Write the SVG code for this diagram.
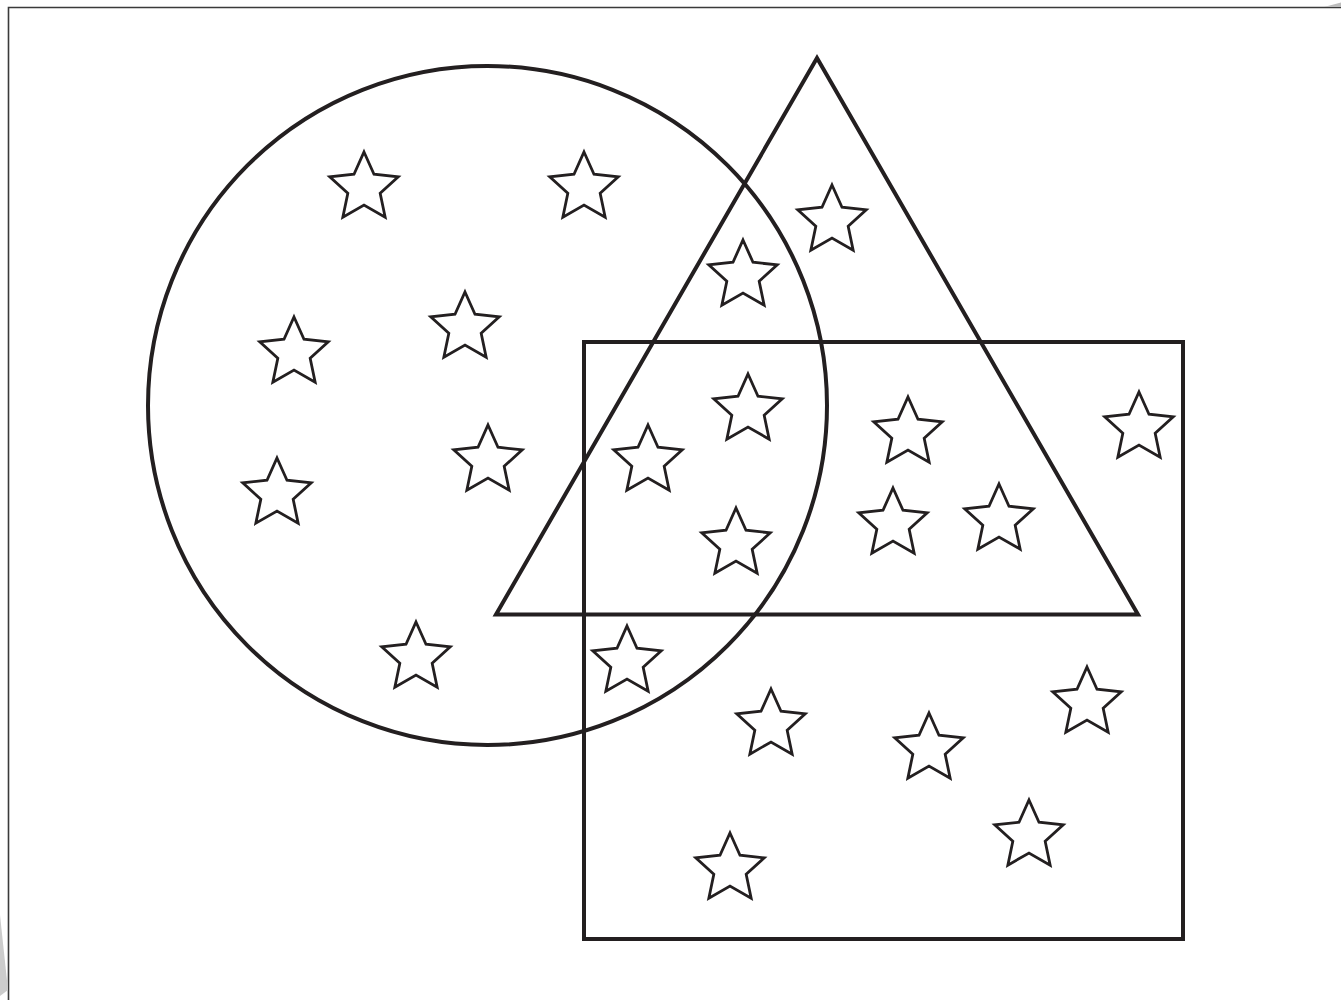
<svg xmlns="http://www.w3.org/2000/svg" xmlns:xlink="http://www.w3.org/1999/xlink" width="1341" height="1000" viewBox="0 0 1341 1000">
<style>
.shape{fill:none;stroke:#231f20;stroke-width:4}
.star{fill:#fff;stroke:#231f20;stroke-width:2.8;stroke-linejoin:miter;stroke-miterlimit:6}
.frame{fill:none;stroke:#3a3a3a;stroke-width:1.6}
</style>
<defs>
<path id="star" d="M0,-36 L9.99,-13.75 L34.24,-11.12 L16.17,5.25 L21.16,29.12 L0,17 L-21.16,29.12 L-16.17,5.25 L-34.24,-11.12 L-9.99,-13.75 Z"/>
</defs>
<rect width="1341" height="1000" fill="#fff"/>
<g id="frame">
<polyline class="frame" points="8.5,1000 8.5,7.5 1341,7.5"/>
<polygon points="1324,7 1341,2.5 1341,7" fill="#bdbdbd"/>
<polygon points="0,915 8,990 0,996" fill="#cccccc"/>
</g>
<g id="circle"><circle class="shape" cx="487.5" cy="405.5" r="339.5"/></g>
<g id="triangle"><polygon class="shape" points="817,58 496,614.5 1138,614.5"/></g>
<g id="square"><rect class="shape" x="584" y="342" width="599" height="597"/></g>
<g id="stars">
<use href="#star" class="star" x="364" y="188"/>
<use href="#star" class="star" x="584" y="188"/>
<use href="#star" class="star" x="832" y="221"/>
<use href="#star" class="star" x="743" y="276"/>
<use href="#star" class="star" x="294" y="353"/>
<use href="#star" class="star" x="465" y="328"/>
<use href="#star" class="star" x="748" y="410"/>
<use href="#star" class="star" x="648" y="461"/>
<use href="#star" class="star" x="908" y="433"/>
<use href="#star" class="star" x="1139" y="428"/>
<use href="#star" class="star" x="488" y="461"/>
<use href="#star" class="star" x="277" y="494"/>
<use href="#star" class="star" x="736" y="544"/>
<use href="#star" class="star" x="893" y="524"/>
<use href="#star" class="star" x="999" y="520"/>
<use href="#star" class="star" x="416" y="658"/>
<use href="#star" class="star" x="627" y="662"/>
<use href="#star" class="star" x="771" y="725"/>
<use href="#star" class="star" x="1087" y="703"/>
<use href="#star" class="star" x="929" y="749"/>
<use href="#star" class="star" x="1029" y="836"/>
<use href="#star" class="star" x="730" y="869"/>
</g>
</svg>
